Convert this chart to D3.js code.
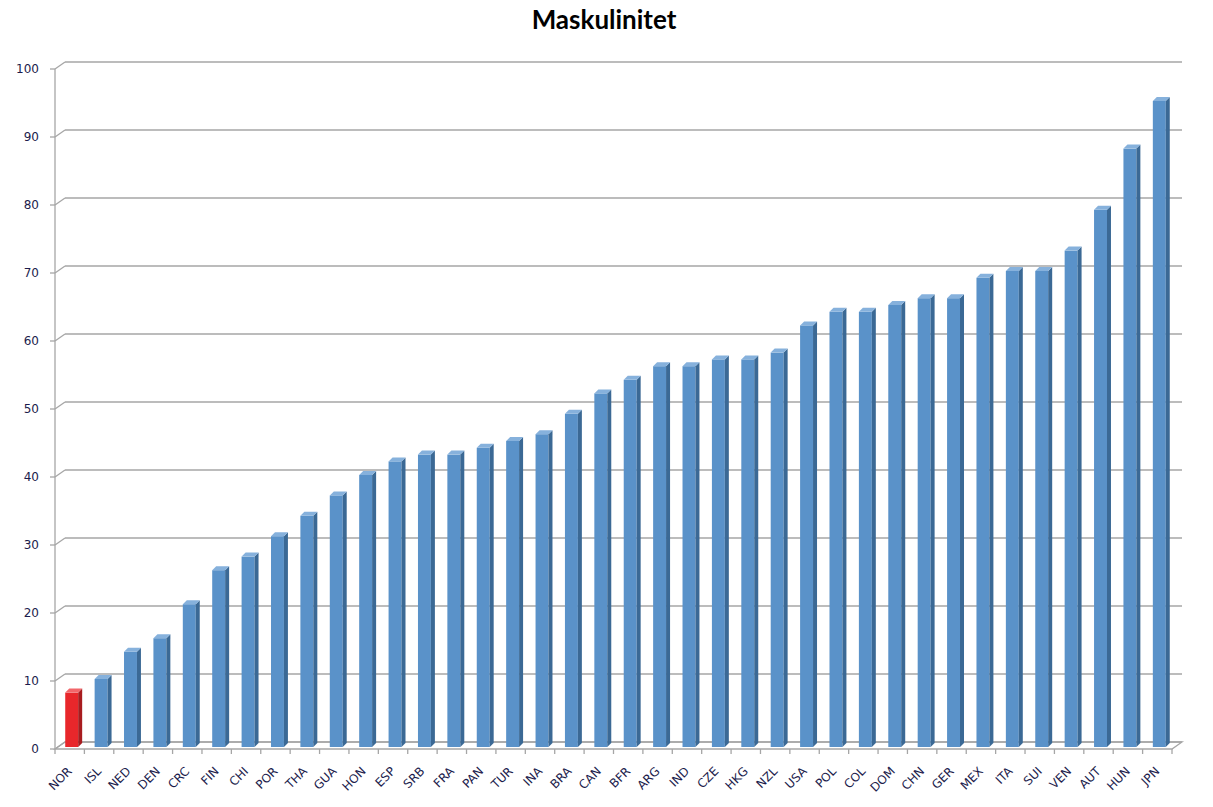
<!DOCTYPE html>
<html><head><meta charset="utf-8">
<script src="https://cdn.jsdelivr.net/npm/d3@7"></script>
<style>body{margin:0;background:#fff}</style>
</head><body>
<svg id="c" width="1213" height="807"></svg>
<script>
const categories = ["NOR","ISL","NED","DEN","CRC","FIN","CHI","POR","THA","GUA","HON","ESP","SRB","FRA","PAN","TUR","INA","BRA","CAN","BFR","ARG","IND","CZE","HKG","NZL","USA","POL","COL","DOM","CHN","GER","MEX","ITA","SUI","VEN","AUT","HUN","JPN"];
const values = [8,10,14,16,21,26,28,31,34,37,40,42,43,43,44,45,46,49,52,54,56,56,57,57,58,62,64,64,65,66,66,69,70,70,73,79,88,95];
const highlight = ["NOR"];
const yTicks = [0,10,20,30,40,50,60,70,80,90,100];
const title = "Maskulinitet";

const svg = d3.select("#c");
const X0 = 55, X1 = 1172, DX = 10, DY = -7;
const x = d3.scaleBand().domain(categories).range([X0, X1]).paddingInner(0.56).paddingOuter(0.28);
const y = d3.scaleLinear().domain([0, 100]).range([749, 69]);
const grid = "#a6a6a6";
const txt = "#1c1c4c";

svg.append("text").attr("x", 604).attr("y", 29).attr("text-anchor", "middle")
  .attr("font-family", "Lato, 'Open Sans', sans-serif").attr("font-weight", "bold")
  .attr("font-size", 26).attr("fill", "#000").text(title);

// back wall gridlines + diagonal connectors
const g = svg.append("g");
yTicks.forEach(t => {
  const yy = y(t);
  g.append("line").attr("x1", X0 + DX).attr("x2", X1 + DX).attr("y1", yy + DY).attr("y2", yy + DY)
    .attr("stroke", grid).attr("stroke-width", 1.3);
  g.append("line").attr("x1", X0).attr("x2", X0 + DX).attr("y1", yy).attr("y2", yy + DY)
    .attr("stroke", grid).attr("stroke-width", 1.3);
  g.append("line").attr("x1", X0 - 5).attr("x2", X0).attr("y1", yy).attr("y2", yy)
    .attr("stroke", grid).attr("stroke-width", 1.3);
});
// floor
g.append("path").attr("d", `M${X0},${y(0)}L${X1},${y(0)}L${X1+DX},${y(0)+DY}L${X0+DX},${y(0)+DY}Z`)
  .attr("fill", "none").attr("stroke", grid).attr("stroke-width", 1.3);
// front y axis
g.append("line").attr("x1", X0).attr("x2", X0).attr("y1", y(100)).attr("y2", y(0))
  .attr("stroke", grid).attr("stroke-width", 1.3);
// x ticks
const step = x.step();
categories.concat(["_end"]).forEach((c, i) => {
  const xx = X0 + i * step;
  g.append("line").attr("x1", xx).attr("x2", xx).attr("y1", y(0)).attr("y2", y(0) + 5)
    .attr("stroke", grid).attr("stroke-width", 1.3);
});

// y labels
svg.append("g").selectAll("text").data(yTicks).join("text")
  .attr("x", 39).attr("y", d => y(d) + 4).attr("text-anchor", "end")
  .attr("font-family", "'DejaVu Sans', sans-serif").attr("font-size", 12).attr("fill", txt)
  .text(d => d);

// bars
const bw = x.bandwidth(), d = 4, bdx = 2, bdy = -2;
const bars = svg.append("g").selectAll("g").data(categories.map((c, i) => ({c, v: values[i]}))).join("g");
bars.each(function(o) {
  const s = d3.select(this);
  const red = highlight.includes(o.c);
  const front = red ? "#e8272b" : "#5a92c9";
  const side = red ? "#a81c1f" : "#3b6995";
  const top = red ? "#f2666a" : "#86b1dc";
  const x0 = x(o.c) + bdx, x1 = x0 + bw, yt = y(o.v) + bdy, yb = y(0) + bdy;
  s.append("rect").attr("x", x0).attr("y", yt).attr("width", bw).attr("height", yb - yt).attr("fill", front);
  s.append("path").attr("d", `M${x1},${yt}L${x1+d},${yt-d}L${x1+d},${yb-d}L${x1},${yb}Z`).attr("fill", side);
  s.append("path").attr("d", `M${x0},${yt}L${x0+d},${yt-d}L${x1+d},${yt-d}L${x1},${yt}Z`).attr("fill", top);
});

// x labels
svg.append("g").selectAll("text").data(categories).join("text")
  .attr("transform", c => `translate(${x(c) + bw/2 + 3},${y(0) + 23}) rotate(-45)`)
  .attr("text-anchor", "end")
  .attr("font-family", "'DejaVu Sans', sans-serif").attr("font-size", 12).attr("fill", txt)
  .text(c => c);
</script>
</body></html>
